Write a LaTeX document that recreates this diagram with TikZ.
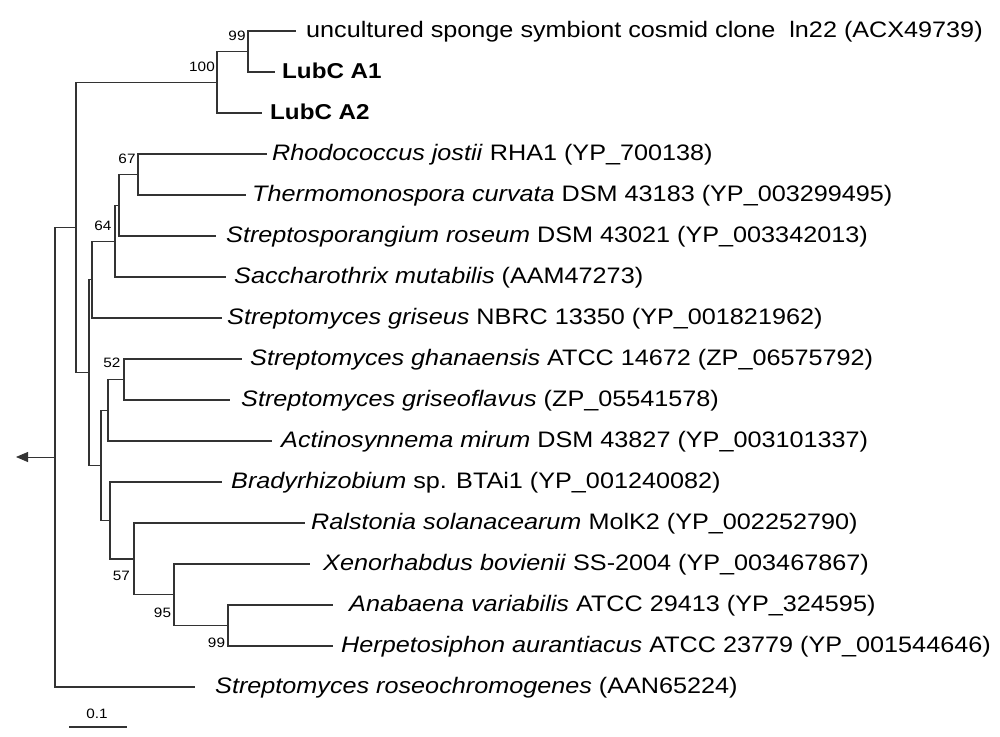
\documentclass[tikz,border=0pt]{standalone}
\usepackage{fontspec}
\usepackage{graphicx}
\setmainfont{Liberation Sans}
\usetikzlibrary{arrows.meta}
\newcommand{\hs}[1]{\scalebox{1.125}[1]{#1}}
\begin{document}
\begin{tikzpicture}[x=1pt,y=-1pt,
  br/.style={line width=1.2pt, draw=black!80},
  taxon/.style={anchor=base west, inner sep=0pt, font=\fontsize{22.4}{26}\selectfont},
  boldtaxon/.style={anchor=base west, inner sep=0pt, font=\fontsize{21.5}{26}\selectfont\bfseries},
  boot/.style={inner sep=0pt, font=\fontsize{13.6}{16}\selectfont}]
\useasboundingbox[fill=white] (0,0) rectangle (1000,736);
% internal nodes
\coordinate (root) at (55,457);
\coordinate (n76) at (76,227.3);
\coordinate (nL) at (217,82.25);
\coordinate (nU) at (248,51.5);
\coordinate (n89) at (89,372.4);
\coordinate (n92) at (92,279.6);
\coordinate (n64) at (115,241.1);
\coordinate (n119) at (119,205.25);
\coordinate (n67) at (138,174.5);
\coordinate (n101) at (101,465.3);
\coordinate (n108) at (108,410.25);
\coordinate (n52) at (124,379.5);
\coordinate (n110) at (110,520.4);
\coordinate (n57) at (134,558.9);
\coordinate (n95) at (174,594.75);
\coordinate (n99) at (228,625.5);
% tips
\coordinate (t0) at (296,31);
\coordinate (t1) at (275,72);
\coordinate (t2) at (262,113);
\coordinate (t3) at (267,154);
\coordinate (t4) at (246,195);
\coordinate (t5) at (216,236);
\coordinate (t6) at (226,277);
\coordinate (t7) at (222,318);
\coordinate (t8) at (242,359);
\coordinate (t9) at (230,400);
\coordinate (t10) at (272,441);
\coordinate (t11) at (222,482);
\coordinate (t12) at (305,523);
\coordinate (t13) at (310,564);
\coordinate (t14) at (333,605);
\coordinate (t15) at (333,646);
\coordinate (t16) at (195,687);
% branches
\draw[br] (root) |- (n76);
\draw[br] (root) |- (t16);
\draw[br] (n76) |- (nL);
\draw[br] (n76) |- (n89);
\draw[br] (nL) |- (nU);
\draw[br] (nL) |- (t2);
\draw[br] (nU) |- (t0);
\draw[br] (nU) |- (t1);
\draw[br] (n89) |- (n92);
\draw[br] (n89) |- (n101);
\draw[br] (n92) |- (n64);
\draw[br] (n92) |- (t7);
\draw[br] (n64) |- (n119);
\draw[br] (n64) |- (t6);
\draw[br] (n119) |- (n67);
\draw[br] (n119) |- (t5);
\draw[br] (n67) |- (t3);
\draw[br] (n67) |- (t4);
\draw[br] (n101) |- (n108);
\draw[br] (n101) |- (n110);
\draw[br] (n108) |- (n52);
\draw[br] (n108) |- (t10);
\draw[br] (n52) |- (t8);
\draw[br] (n52) |- (t9);
\draw[br] (n110) |- (t11);
\draw[br] (n110) |- (n57);
\draw[br] (n57) |- (t12);
\draw[br] (n57) |- (n95);
\draw[br] (n95) |- (t13);
\draw[br] (n95) |- (n99);
\draw[br] (n99) |- (t14);
\draw[br] (n99) |- (t15);
% root arrow
\coordinate (arr) at (16,457);
\draw[br, line width=0.8pt, -{Triangle[length=12pt,width=10pt]}] (root) -- (arr);
% taxa
\node[taxon] (l0) at (306,37) {\hs{uncultured sponge symbiont cosmid clone\ \ ln22 (ACX49739)}};
\node[boldtaxon] (l1) at (282,78) {\hs{LubC A1}};
\node[boldtaxon] (l2) at (270,119) {\hs{LubC A2}};
\node[taxon] (l3) at (272,160) {\hs{\textit{Rhodococcus jostii} RHA1 (YP\_700138)}};
\node[taxon] (l4) at (252,201) {\hs{\textit{Thermomonospora curvata} DSM 43183 (YP\_003299495)}};
\node[taxon] (l5) at (226,242) {\hs{\textit{Streptosporangium roseum} DSM 43021 (YP\_003342013)}};
\node[taxon] (l6) at (234,283) {\hs{\textit{Saccharothrix mutabilis} (AAM47273)}};
\node[taxon] (l7) at (227,324) {\hs{\textit{Streptomyces griseus} NBRC 13350 (YP\_001821962)}};
\node[taxon] (l8) at (250,365) {\hs{\textit{Streptomyces ghanaensis} ATCC 14672 (ZP\_06575792)}};
\node[taxon] (l9) at (241,406) {\hs{\textit{Streptomyces griseoflavus} (ZP\_05541578)}};
\node[taxon] (l10) at (281,447) {\hs{\textit{Actinosynnema mirum} DSM 43827 (YP\_003101337)}};
\node[taxon] (l11) at (231,488) {\hs{\textit{Bradyrhizobium} sp. BTAi1 (YP\_001240082)}};
\node[taxon] (l12) at (311,529) {\hs{\textit{Ralstonia solanacearum} MolK2 (YP\_002252790)}};
\node[taxon] (l13) at (323,570) {\hs{\textit{Xenorhabdus bovienii} SS-2004 (YP\_003467867)}};
\node[taxon] (l14) at (349,611) {\hs{\textit{Anabaena variabilis} ATCC 29413 (YP\_324595)}};
\node[taxon] (l15) at (341,652) {\hs{\textit{Herpetosiphon aurantiacus} ATCC 23779 (YP\_001544646)}};
\node[taxon] (l16) at (215,693) {\hs{\textit{Streptomyces roseochromogenes} (AAN65224)}};
% bootstrap values
\node[boot] (b99a) at (237,36) {\hs{99}};
\node[boot] (b100) at (202,66.5) {\hs{100}};
\node[boot] (b67) at (127,159) {\hs{67}};
\node[boot] (b64) at (103,226) {\hs{64}};
\node[boot] (b52) at (112,363) {\hs{52}};
\node[boot] (b57) at (121.5,576) {\hs{57}};
\node[boot] (b95) at (162.5,613) {\hs{95}};
\node[boot] (b99b) at (216.5,643) {\hs{99}};
% scale bar
\coordinate (sb1) at (69,727);
\coordinate (sb2) at (127,727);
\draw[br] (sb1) -- (sb2);
\node[boot] (sbl) at (97,714) {\hs{0.1}};
\end{tikzpicture}
\end{document}
